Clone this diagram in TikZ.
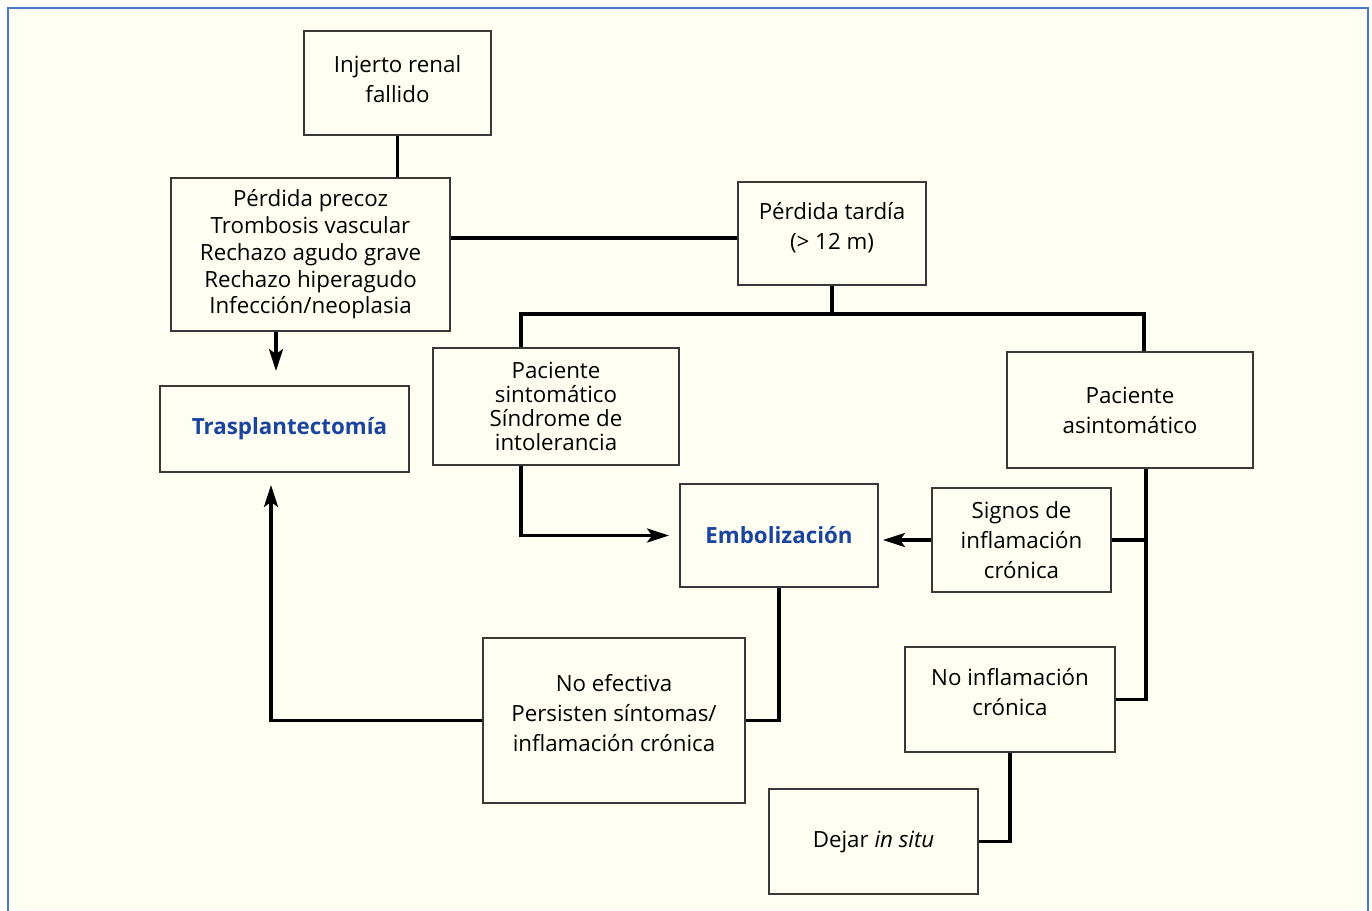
\documentclass[tikz,border=0pt]{standalone}
\usepackage{fontspec}
\setmainfont{Open Sans}
\usetikzlibrary{arrows.meta}
\definecolor{crema}{HTML}{FEFEF2}
\definecolor{marco}{HTML}{4A78C8}
\definecolor{azul}{HTML}{1A449E}
\definecolor{borde}{HTML}{383838}
\tikzset{
  caja/.style={draw=borde, line width=1.1pt, align=center, inner sep=2pt,
    font=\fontsize{12.7}{17}\selectfont},
  linea/.style={line width=1.9pt},
  flecha/.style={line width=1.9pt, -{Stealth[length=0.44cm,width=0.28cm,inset=0.1cm]}}
}
\begin{document}
\begin{tikzpicture}[x=0.02cm, y=-0.02cm]
      \useasboundingbox (0, 0) rectangle (1372, 910);
      \fill[white] (0, 0) rectangle (1372, 910);
      \fill[crema] (8, 8) rectangle (1368, 910);
      \draw[marco, line width=1.2pt] (8, 912) -- (8, 8) -- (1368, 8) -- (1368, 912);
      \node[caja, minimum width=3.74cm, minimum height=2.08cm] (injerto) at (397.5, 83) {Injerto renal\\fallido\\[-0.45cm]};
      \node[caja, minimum width=5.58cm, minimum height=3.06cm, font=\fontsize{12.7}{15.2}\selectfont] (precoz) at (310.5, 254.5) {P\'erdida precoz\\Trombosis vascular\\Rechazo agudo grave\\Rechazo hiperagudo\\Infecci\'on/neoplasia};
      \node[caja, minimum width=4.98cm, minimum height=1.72cm] (traspl) at (284.5, 429) {\hspace*{0.2cm}{\bfseries\color{azul}Trasplantectom\'ia}};
      \node[caja, minimum width=3.76cm, minimum height=2.06cm] (tardia) at (832, 233.5) {P\'erdida tard\'ia\\(> 12 m)\\[-0.3cm]};
      \node[caja, minimum width=4.92cm, minimum height=2.34cm, font=\fontsize{12.7}{13.7}\selectfont] (sintom) at (556, 406.5) {Paciente\\sintom\'atico\\S\'indrome de\\intolerancia};
      \node[caja, minimum width=4.92cm, minimum height=2.32cm] (asintom) at (1130, 410) {Paciente\\asintom\'atico};
      \node[caja, minimum width=3.96cm, minimum height=2.06cm] (emboliz) at (779, 535.5) {{\bfseries\color{azul}Embolizaci\'on}};
      \node[caja, minimum width=3.58cm, minimum height=2.08cm] (signos) at (1021.5, 540) {Signos de\\inflamaci\'on\\cr\'onica};
      \node[caja, minimum width=5.24cm, minimum height=3.3cm] (noefect) at (614, 720.5) {No efectiva\\Persisten s\'intomas/\\inflamaci\'on cr\'onica\\[-0.3cm]};
      \node[caja, minimum width=4.2cm, minimum height=2.1cm] (noinfl) at (1010, 699.5) {No inflamaci\'on\\cr\'onica\\[-0.3cm]};
      \node[caja, minimum width=4.18cm, minimum height=2.1cm] (dejar) at (873.5, 841.5) {Dejar \textit{in situ}};
      \coordinate (reparto) at ([yshift=-0.56cm]tardia.south);
      \coordinate (tronco) at ([xshift=0.32cm]asintom.south);
      \draw[linea] (injerto.south) -- (injerto.south |- precoz.north);
      \draw[linea] ([yshift=-0.09cm]tardia.west -| precoz.east) -- ([yshift=-0.09cm]tardia.west);
      \draw[flecha, shorten >=0.28cm] ([xshift=-0.17cm]traspl.north |- precoz.south) -- ([xshift=-0.17cm]traspl.north);
      \draw[linea] (tardia.south) -- (reparto);
      \draw[linea] ([xshift=-0.7cm]sintom.north) |- (reparto) -| ([xshift=0.28cm]asintom.north);
      \draw[flecha, shorten >=0.2cm] ([xshift=-0.7cm]sintom.south) |- (emboliz.west);
      \draw[linea] (tronco) -- (tronco |- noinfl.east) -- (noinfl.east);
      \draw[linea] (signos.east) -- (signos.east -| tronco);
      \draw[flecha, shorten >=0.08cm] (signos.west) -- (signos.west -| emboliz.east);
      \draw[linea] (emboliz.south) |- (noefect.east);
      \draw[flecha, shorten >=0.24cm] (noefect.west) -| ([xshift=-0.27cm]traspl.south);
      \draw[linea] (noinfl.south) |- (dejar.east);
\end{tikzpicture}
\end{document}
